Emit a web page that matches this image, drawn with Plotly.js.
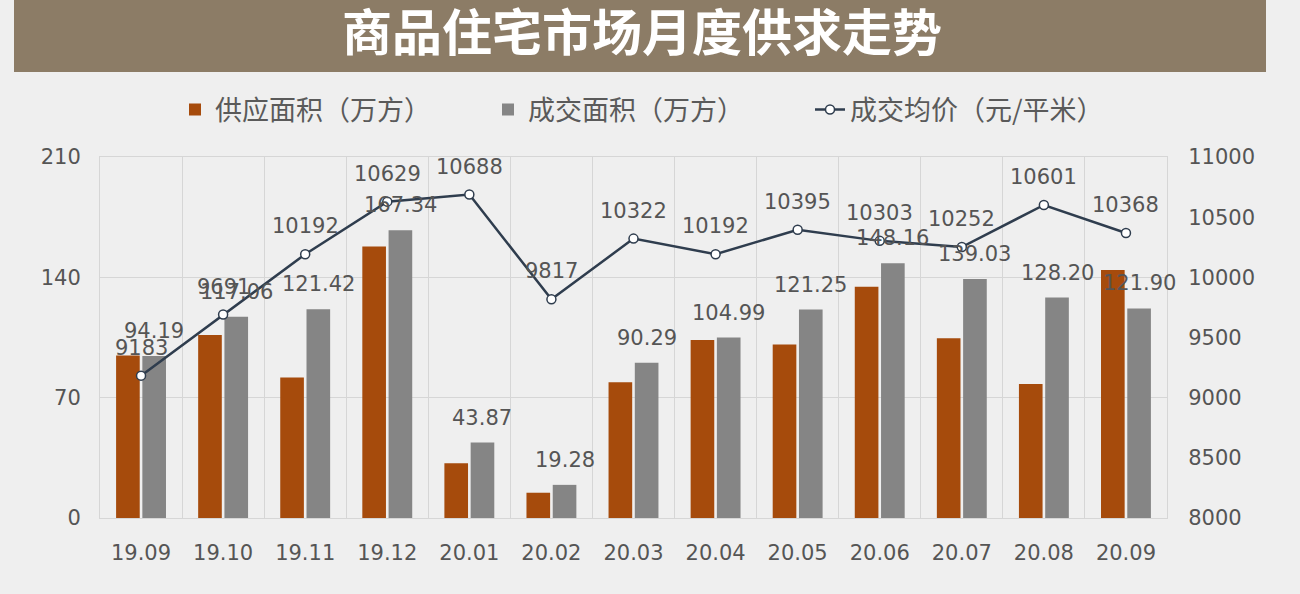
<!DOCTYPE html>
<html>
<head>
<meta charset="utf-8">
<script src="https://cdn.plot.ly/plotly-3.0.1.min.js"></script>
<style>
  html, body { margin: 0; padding: 0; background: #efefef; }
  #chart { width: 1300px; height: 594px; }
</style>
</head>
<body>
<div id="chart"></div>
<script>
const months = ["19.09","19.10","19.11","19.12","20.01","20.02","20.03","20.04","20.05","20.06","20.07","20.08","20.09"];
const supplyArea = [94.5, 106.4, 81.8, 158.0, 31.8, 14.7, 78.9, 103.5, 101.0, 134.5, 104.5, 78.0, 144.2];
const dealArea = [94.19, 117.06, 121.42, 167.34, 43.87, 19.28, 90.29, 104.99, 121.25, 148.16, 139.03, 128.20, 121.90];
const avgPrice = [9183, 9691, 10192, 10629, 10688, 9817, 10322, 10192, 10395, 10303, 10252, 10601, 10368];
const leftTicks = [0, 70, 140, 210];
const rightTicks = [8000, 8500, 9000, 9500, 10000, 10500, 11000];

const numFont = {family: "DejaVu Sans, Verdana, sans-serif", size: 21, color: "#555555"};
const cjkFont = {family: "Noto Sans CJK SC, sans-serif", size: 27, color: "#5a5a5a"};

const traces = [
  {
    type: "bar", name: "供应面积（万方）", x: months, y: supplyArea,
    marker: {color: "#a64b0c"}, legend: "legend", offsetgroup: "a",
    hoverinfo: "skip"
  },
  {
    type: "bar", name: "成交面积（万方）", x: months, y: dealArea,
    marker: {color: "#858585"}, legend: "legend2", offsetgroup: "b",
    hoverinfo: "skip"
  },
  {
    type: "scatter", mode: "lines+markers", name: "成交均价（元/平米）",
    x: months, y: avgPrice, yaxis: "y2", legend: "legend3",
    line: {color: "#2f3d4e", width: 2.5},
    marker: {symbol: "circle", size: 9, color: "#ffffff", line: {color: "#2f3d4e", width: 1.5}},
    cliponaxis: false, hoverinfo: "skip"
  }
];

const plotL = 100, plotR = 1167, plotT = 157, plotB = 518;
const px = x => (x - plotL) / (plotR - plotL);
const py = y => (plotB - y) / (plotB - plotT);

// bar slot geometry used only to centre labels over the gray bars
const bargap = 0.36, bargroupgap = 0.1;
const grayOffset = (1 - bargap) / 4; // in category units

const annotations = [];
months.forEach((m, i) => {
  annotations.push({
    x: i + grayOffset, xref: "x", y: dealArea[i], yref: "y",
    text: dealArea[i].toFixed(2), showarrow: false,
    yanchor: "middle", xanchor: "center", yshift: 25, font: numFont
  });
  annotations.push({
    x: i, xref: "x", y: avgPrice[i], yref: "y2",
    text: String(avgPrice[i]), showarrow: false,
    yanchor: "middle", xanchor: "center", yshift: 28, font: numFont
  });
});

const legendBase = {
  orientation: "h", yanchor: "middle", xanchor: "left",
  bgcolor: "rgba(0,0,0,0)", font: cjkFont, borderwidth: 0
};

const layout = {
  width: 1300, height: 594,
  paper_bgcolor: "#efefef", plot_bgcolor: "#efefef",
  margin: {l: plotL, r: 1300 - plotR, t: plotT, b: 594 - plotB, pad: 0},
  barmode: "group", bargap: bargap, bargroupgap: bargroupgap,
  title: {
    text: "<b>商品住宅市场月度供求走势</b>",
    font: {family: "Noto Sans CJK SC, sans-serif", size: 50, color: "#ffffff"},
    x: 642 / 1300, xanchor: "center", xref: "container",
    y: 1 - 33 / 594, yanchor: "middle", yref: "container"
  },
  shapes: [{
    type: "rect", xref: "paper", yref: "paper",
    x0: px(14), x1: px(1266), y0: py(72), y1: py(0),
    fillcolor: "#8c7c66", line: {width: 0}, layer: "below"
  }],
  annotations: annotations,
  xaxis: {
    type: "category", tickson: "boundaries", range: [-0.5, months.length - 0.5],
    showgrid: true, gridcolor: "#d6d6d6", gridwidth: 1,
    showline: true, linecolor: "#d6d6d6", mirror: true,
    ticks: "", ticklabelstandoff: 16,
    tickfont: numFont, fixedrange: true
  },
  yaxis: {
    range: [0, 210], tickvals: leftTicks, ticktext: leftTicks.map(String),
    showgrid: true, gridcolor: "#d6d6d6", gridwidth: 1,
    showline: true, linecolor: "#d6d6d6", mirror: true, zeroline: false,
    ticks: "outside", ticklen: 14, tickcolor: "rgba(0,0,0,0)",
    tickfont: numFont, fixedrange: true
  },
  yaxis2: {
    overlaying: "y", side: "right", range: [8000, 11000],
    tickvals: rightTicks, ticktext: rightTicks.map(String),
    showgrid: false, zeroline: false, showline: false,
    ticks: "outside", ticklen: 16, tickcolor: "rgba(0,0,0,0)",
    tickfont: numFont, fixedrange: true
  },
  legend: Object.assign({}, legendBase, {x: px(175), y: py(110)}),
  legend2: Object.assign({}, legendBase, {x: px(488), y: py(110)}),
  legend3: Object.assign({}, legendBase, {x: px(810), y: py(110)}),
  showlegend: true,
  hovermode: false
};

Plotly.newPlot("chart", traces, layout, {displayModeBar: false, staticPlot: true});
</script>
</body>
</html>
